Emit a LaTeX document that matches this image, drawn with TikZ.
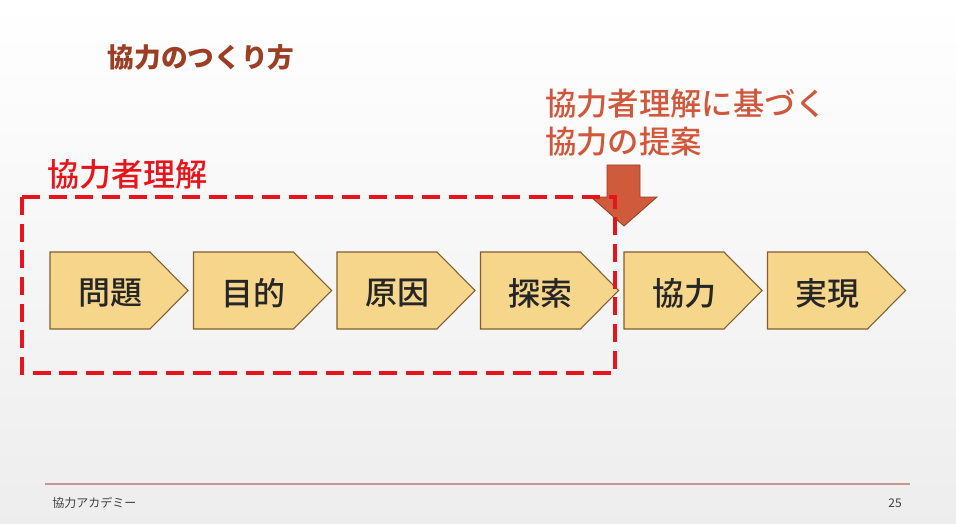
\documentclass[tikz,border=0pt]{standalone}
\usepackage{fontspec}
\setmainfont{Noto Sans CJK JP}
\newfontfamily\medfont{Noto Sans CJK JP Medium}
\definecolor{titlebrown}{HTML}{9C3D24}
\definecolor{labelred}{HTML}{E8141B}
\definecolor{proporange}{HTML}{D2573A}
\definecolor{arrowfill}{HTML}{D05A3C}
\definecolor{stepfill}{HTML}{F6D68A}
\definecolor{stepline}{HTML}{7F5F30}
\definecolor{footrule}{HTML}{C9958C}
\begin{document}
\begin{tikzpicture}[x=0.75pt, y=-0.75pt,
    stepbox/.style={draw=stepline, fill=stepfill, line width=0.8pt},
    steptext/.style={text=black!85, font=\fontsize{24pt}{28pt}\selectfont\medfont},
    footer/.style={text=black!75, font=\fontsize{9pt}{11pt}\selectfont}]
        \useasboundingbox (0,0) rectangle (956,524);
        \shade[top color=white, middle color=white, bottom color=black!7] (0,0) rectangle (956,524);
        \node (title) at (201,57) [text=titlebrown, font=\fontsize{20pt}{24pt}\selectfont\bfseries]{協力のつくり方};
        \node (understand) at (47,174) [anchor=west, inner sep=0pt, text=labelred, font=\fontsize{24pt}{28pt}\selectfont\medfont]{協力者理解};
        \node (proposal) at (545,123) [anchor=west, inner sep=0pt, align=left, text=proporange, font=\fontsize{23.5pt}{28.5pt}\selectfont\medfont]{協力者理解に基づく\\協力の提案};
        \foreach \x/\t [count=\i] in {50/問題, 193.5/目的, 337/原因, 480.5/探索, 624/協力, 767.5/実現}{
            \draw [stepbox] (\x,252) -- ++(100,0) -- ++(38,38.5) -- ++(-38,38.5) -- ++(-100,0) -- cycle;
            \node (s\i) at (\x+60,293) [steptext]{\t};
        }
        \draw [draw=titlebrown, fill=arrowfill, line width=0.6pt](607,165) -- (640,165) -- (640,197) -- (657,197) -- (624,226) -- (591,197) -- (607,197) -- cycle;
        \draw [labelred, line width=3pt, dash pattern=on 13.5pt off 6.5pt](22,197) rectangle (615,373);
        \draw [footrule, line width=1.5pt](45,484) -- (910,484);
        \node (academy) at (52,503) [anchor=west, inner sep=0pt, footer]{協力アカデミー};
        \node (page) at (902,503) [anchor=east, inner sep=0pt, footer]{25};
    \end{tikzpicture}
\end{document}
